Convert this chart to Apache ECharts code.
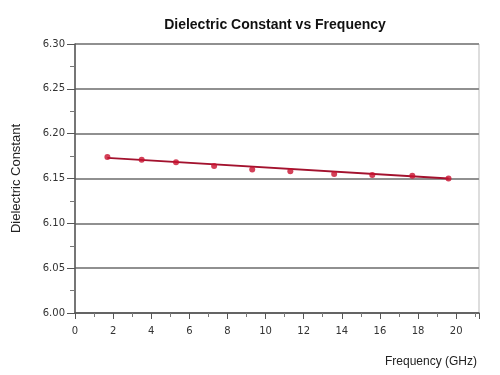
<!DOCTYPE html>
<html>
<head>
<meta charset="utf-8">
<script src="https://cdn.jsdelivr.net/npm/echarts@6/dist/echarts.min.js"></script>
<style>
  html, body { margin: 0; padding: 0; background: #fff; }
  #chart { width: 500px; height: 375px; }
</style>
</head>
<body>
<div id="chart"></div>
<script>
  // measured points (GHz, dielectric constant)
  const freq = [1.7, 3.5, 5.3, 7.3, 9.3, 11.3, 13.6, 15.6, 17.7, 19.6];
  const dk = [6.174, 6.171, 6.168, 6.164, 6.160, 6.158, 6.155, 6.154, 6.153, 6.150];
  // straight fit line drawn through the points
  const trendFreq = [1.7, 19.6];
  const trendDk = [6.173, 6.150];

  const chart = echarts.init(document.getElementById('chart'));

  chart.setOption({
    animation: false,
    title: [
      {
        text: 'Dielectric Constant vs Frequency',
        left: 270,
        textAlign: 'center',
        top: 13,
        textStyle: { fontFamily: 'Liberation Sans', fontSize: 14, fontWeight: 'bold', color: '#111' }
      },
      {
        text: 'Frequency (GHz)',
        right: 18,
        top: 351,
        textStyle: { fontFamily: 'Liberation Sans', fontSize: 12, fontWeight: 'normal', color: '#222' }
      }
    ],
    grid: {
      left: 75, right: 21, top: 44, bottom: 62,
      show: true, borderColor: '#bbb', borderWidth: 1
    },
    xAxis: {
      type: 'value',
      min: 0,
      max: 21.2,
      interval: 2,
      axisLine: { show: true, lineStyle: { color: '#555', width: 1.5 } },
      axisTick: { show: true, length: 6, lineStyle: { color: '#555' } },
      minorTick: { show: true, splitNumber: 2, length: 4, lineStyle: { color: '#777' } },
      splitLine: { show: false },
      axisLabel: {
        showMaxLabel: false,
        margin: 13,
        fontFamily: 'DejaVu Sans', fontSize: 10, color: '#333'
      }
    },
    yAxis: {
      type: 'value',
      min: 6.0,
      max: 6.3,
      interval: 0.05,
      name: 'Dielectric Constant',
      nameLocation: 'middle',
      nameRotate: 90,
      nameGap: 52,
      nameTextStyle: { fontFamily: 'Liberation Sans', fontSize: 13, color: '#222' },
      axisLine: { show: true, lineStyle: { color: '#555', width: 1.5 } },
      axisTick: { show: true, length: 8, lineStyle: { color: '#555' } },
      minorTick: { show: true, splitNumber: 2, length: 5, lineStyle: { color: '#777' } },
      splitLine: { show: true, lineStyle: { color: '#909090', width: 2 } },
      axisLabel: {
        formatter: v => v.toFixed(2),
        margin: 10,
        fontFamily: 'DejaVu Sans', fontSize: 10, color: '#333'
      }
    },
    series: [
      {
        name: 'fit',
        type: 'line',
        data: trendFreq.map((x, i) => [x, trendDk[i]]),
        showSymbol: false,
        lineStyle: { color: '#a3122e', width: 2 },
        z: 2
      },
      {
        name: 'measured',
        type: 'scatter',
        data: freq.map((x, i) => [x, dk[i]]),
        symbolSize: 6,
        itemStyle: { color: '#c8102e' },
        z: 3
      }
    ]
  });
</script>
</body>
</html>
